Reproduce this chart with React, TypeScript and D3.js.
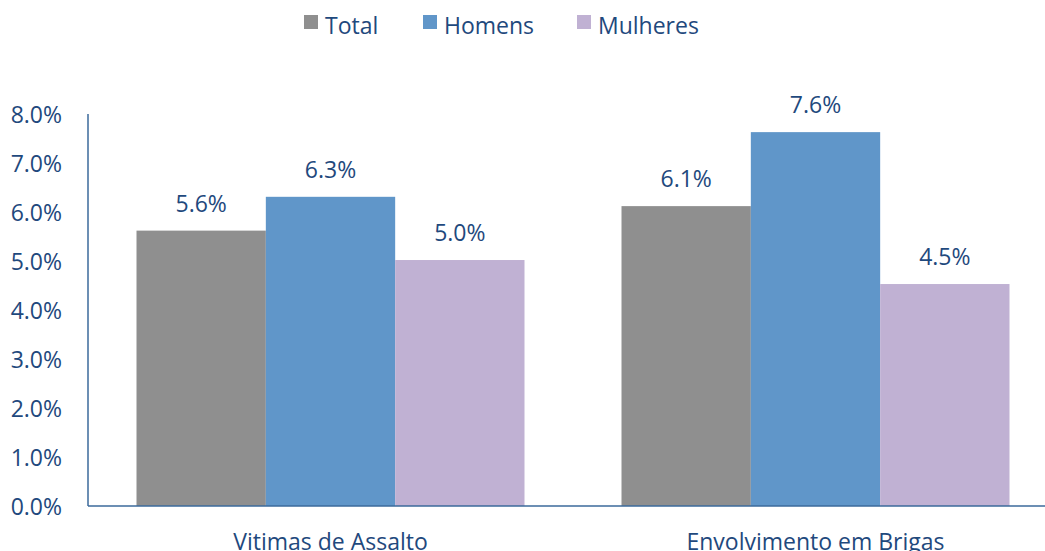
import React from "react";
import * as d3 from "d3";

const categories = ["Vitimas de Assalto", "Envolvimento em Brigas"];
const seriesNames = ["Total", "Homens", "Mulheres"];
const totalValues = [5.62, 6.12];
const homensValues = [6.31, 7.63];
const mulheresValues = [5.02, 4.53];
const yTicks = [0, 1, 2, 3, 4, 5, 6, 7, 8];
const colors = ["#8f8f8f", "#6096c9", "#c0b1d3"];

const W = 1045;
const H = 551;
const textColor = "#1f497d";
const font = "'Open Sans', sans-serif";
const fs = 23;

export default function App() {
  const series = [totalValues, homensValues, mulheresValues];
  const y = d3.scaleLinear().domain([0, 8]).range([506, 114]);
  const x0 = d3.scaleBand().domain(categories).range([88, 1058]).paddingInner(0.2).paddingOuter(0.1);
  const x1 = d3.scaleBand().domain(seriesNames).range([0, x0.bandwidth()]);
  const legendX = [304, 423, 577];
  return (
    <svg width={W} height={H} style={{ position: "absolute", left: 0, top: 0, background: "#fff" }}>
      {seriesNames.map((s, i) => (
        <g key={s}>
          <rect x={legendX[i]} y={15} width={14} height={14} fill={colors[i]} />
          <text x={legendX[i] + 21} y={34} fontFamily={font} fontSize={fs} fill={textColor}>{s}</text>
        </g>
      ))}
      {categories.map((c, ci) => (
        <g key={c} transform={`translate(${x0(c)},0)`}>
          {seriesNames.map((s, si) => {
            const v = series[si][ci];
            return (
              <g key={s}>
                <rect x={x1(s)} y={y(v)} width={x1.bandwidth()} height={y(0) - y(v)} fill={colors[si]} />
                <text x={(x1(s) as number) + x1.bandwidth() / 2} y={y(v) - 19} textAnchor="middle" fontFamily={font} fontSize={fs} fill={textColor}>
                  {v.toFixed(1)}%
                </text>
              </g>
            );
          })}
          <text x={x0.bandwidth() / 2} y={550} textAnchor="middle" fontFamily={font} fontSize={fs} fill={textColor}>{c}</text>
        </g>
      ))}
      <line x1={88} x2={88} y1={114} y2={506} stroke="#3b6a9b" strokeWidth={1.5} />
      <line x1={88} x2={W} y1={506} y2={506} stroke="#3b6a9b" strokeWidth={1.5} />
      {yTicks.map((t) => (
        <text key={t} x={62} y={y(t) + 9} textAnchor="end" fontFamily={font} fontSize={fs} fill={textColor}>
          {t.toFixed(1)}%
        </text>
      ))}
    </svg>
  );
}
